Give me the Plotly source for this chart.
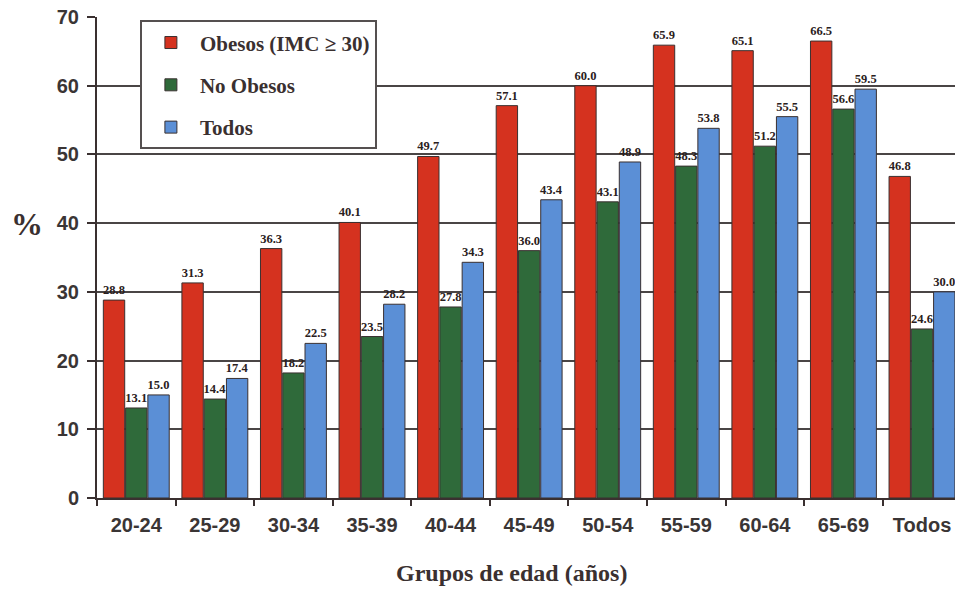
import plotly.graph_objects as go

# Age groups and prevalence (%) per group
grupos = ["20-24", "25-29", "30-34", "35-39", "40-44", "45-49",
          "50-54", "55-59", "60-64", "65-69", "Todos"]
obesos = [28.8, 31.3, 36.3, 40.1, 49.7, 57.1, 60.0, 65.9, 65.1, 66.5, 46.8]
no_obesos = [13.1, 14.4, 18.2, 23.5, 27.8, 36.0, 43.1, 48.3, 51.2, 56.6, 24.6]
todos = [15.0, 17.4, 22.5, 28.2, 34.3, 43.4, 48.9, 53.8, 55.5, 59.5, 30.0]
y_ticks = [0, 10, 20, 30, 40, 50, 60, 70]

series = [
    ("Obesos (IMC \u2265 30)", obesos, "#d5321f"),
    ("No Obesos", no_obesos, "#2f6a3a"),
    ("Todos", todos, "#5b8fd6"),
]

fig = go.Figure()
for i, (name, vals, color) in enumerate(series):
    fig.add_trace(go.Bar(
        name=name,
        x=grupos,
        y=vals,
        legendgroup=f"g{i}",
        marker=dict(color=color, line=dict(color="#3a3030", width=1)),
        text=[f"{v:.1f}" for v in vals],
        textposition="outside",
        textangle=0,
        constraintext="none",
        cliponaxis=False,
        textfont=dict(family="Liberation Serif", size=12.5, color="#2a2020",
                      weight="bold"),
    ))

fig.update_layout(
    width=955,
    height=589,
    margin=dict(l=97, r=0, t=17, b=91),
    paper_bgcolor="white",
    plot_bgcolor="white",
    barmode="group",
    bargap=0.15,
    bargroupgap=0.04,
    showlegend=True,
    legend=dict(
        x=0.05, y=0.993, xanchor="left", yanchor="top",
        bgcolor="white",
        bordercolor="#555050", borderwidth=2,
        font=dict(family="Liberation Serif", size=21, color="#3a3030",
                  weight="bold"),
        traceorder="grouped",
        tracegroupgap=12,
        itemwidth=48,
    ),
    xaxis=dict(
        range=[-0.5, 10.42],
        showgrid=False,
        showline=True, linecolor="#3a3030", linewidth=2,
        ticks="outside", tickson="boundaries", ticklen=6,
        tickcolor="#3a3030", tickwidth=2,
        ticklabelstandoff=8,
        tickfont=dict(family="Liberation Sans", size=20, color="#3a3535",
                      weight="bold"),
    ),
    yaxis=dict(
        range=[0, 70],
        tickvals=y_ticks,
        showgrid=True, gridcolor="#4a4545", gridwidth=2,
        showline=True, linecolor="#3a3030", linewidth=2,
        ticks="outside", ticklen=8, tickcolor="#3a3030", tickwidth=2,
        ticklabelstandoff=4,
        tickfont=dict(family="Liberation Sans", size=20, color="#3a3535",
                      weight="bold"),
        zeroline=False,
    ),
    annotations=[
        dict(text="%", xref="paper", yref="paper", x=(27 - 97) / 858,
             y=0.57, xanchor="center", yanchor="middle", showarrow=False,
             font=dict(family="Liberation Serif", size=32, color="#3a3030",
                       weight="bold")),
        dict(text="Grupos de edad (a\u00f1os)", xref="paper", yref="paper",
             x=(511 - 97) / 858, y=-0.155, xanchor="center", yanchor="middle",
             showarrow=False,
             font=dict(family="Liberation Serif", size=24, color="#3a3030",
                       weight="bold")),
    ],
)

fig.write_html("out.html")
